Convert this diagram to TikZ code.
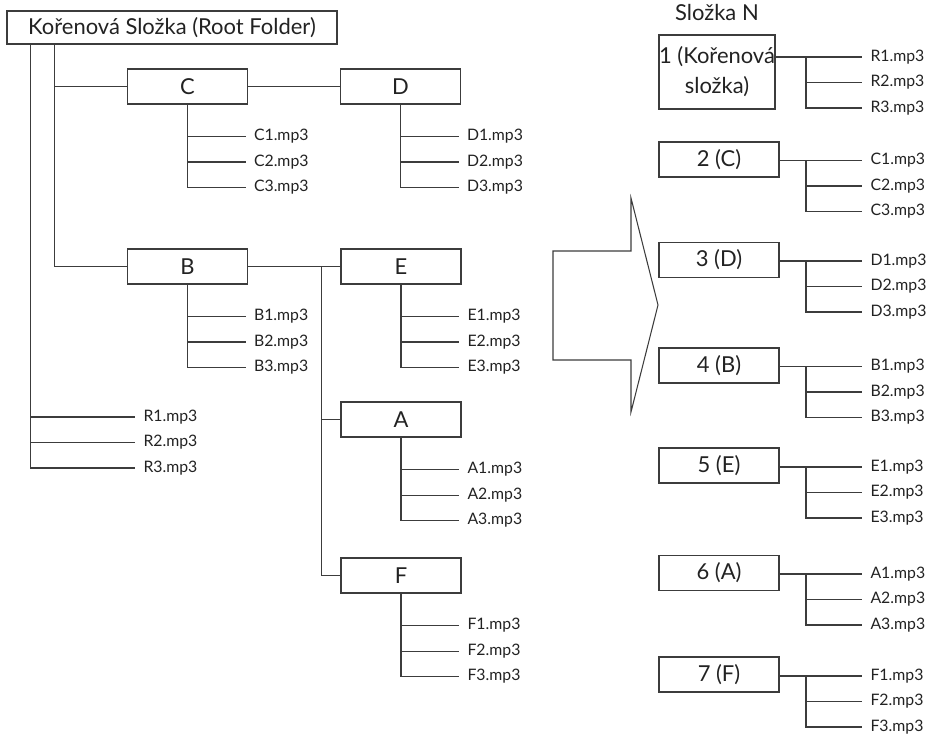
\documentclass[tikz,border=0pt]{standalone}
\usepackage{fontspec}
\setmainfont{Lato}
\usetikzlibrary{positioning}
\definecolor{lnG}{HTML}{3C3C3C}
\definecolor{txG}{HTML}{222222}

\begin{document}
\begin{tikzpicture}[x=0.02cm,y=-0.02cm,line width=0.7pt,color=txG,
  dir/.style={draw=lnG,minimum width=2.4cm,minimum height=0.7cm,inner sep=0pt,
    font=\fontsize{12.5}{17}\selectfont},
  file/.style={anchor=west,inner xsep=4.5pt,inner ysep=0pt,font=\fontsize{9}{11}\selectfont},
  lnk/.style={draw=lnG}]
  \useasboundingbox (0,0) rectangle (932,733);
  % left: folder tree
  \node[dir,minimum width=6.6cm,minimum height=0.66cm] (root) at (172,27.5) {Kořenová Složka (Root Folder)};
  \node[dir] (C) at (187.5,86.5) {C};
  \node[dir] (D) at (400.5,86.5) {D};
  \node[dir] (B) at (187.5,266.5) {B};
  \node[dir] (E) at (401,266.5) {E};
  \node[dir] (A) at (401,419.5) {A};
  \node[dir] (F) at (401,575.5) {F};
  \foreach \d in {C,D,B,E,A,F} {
    \foreach \k in {1,2,3}
      \node[file] (\d\k) at ([shift={(58,{32+25.5*(\k-1)})}]\d.south) {\d\k.mp3};
    \draw[lnk] (\d.south) |- (\d3.west) (\d.south |- \d1.west) -- (\d1.west)
      (\d.south |- \d2.west) -- (\d2.west);
  }
  \foreach \k in {1,2,3}
    \node[file] (R\k) at (135,{391.5+25.5*\k}) {R\k.mp3};
  \draw[lnk] ([xshift=0.48cm]root.south west) |- (R3.west)
    ([xshift=0.48cm]root.south west |- R1.west) -- (R1.west)
    ([xshift=0.48cm]root.south west |- R2.west) -- (R2.west);
  \draw[lnk] ([xshift=0.96cm]root.south west) |- (B.west)
    ([xshift=0.96cm]root.south west |- C.west) -- (C.west);
  \draw[lnk] (C) -- (D);
  \draw[lnk] (B) -- (E);
  \draw[lnk] ([xshift=-0.38cm]E.west) |- (F.west)
    ([xshift=-0.38cm]E.west |- A.west) -- (A.west);

  % middle: big arrow
  \draw[lnG,line width=0.6pt] (553,251) -- (631,251) -- (631,198) -- (658,305)
    -- (631,412) -- (631,360) -- (553,360) -- cycle;

  % right: folder order
  \node[font=\fontsize{12.5}{15}\selectfont] (title) at (717,13) {Složka N};
  \node[dir,minimum width=2.32cm,minimum height=1.48cm,align=center] (s1) at (717,72)
    {1 (Kořenová\\složka)};
  \foreach \i/\l/\y in {2/C/159.5,3/D/260,4/B/365.5,5/E/465.5,6/A/573,7/F/674.5}
    \node[dir] (s\i) at (719,\y) {\i\ (\l)};
  \foreach \i/\l/\y in {1/R/57,2/C/160.5,3/D/261,4/B/366.5,5/E/467,6/A/574,7/F/676} {
    \foreach \k in {1,2,3}
      \node[file] (s\i-\k) at (862,{\y+25.5*(\k-1)}) {\l\k.mp3};
    \draw[lnk] (s\i.east |- s\i-1.west) -- (s\i-1.west)
      ([xshift=-1.12cm]s\i-1.west) |- (s\i-3.west)
      ([xshift=-1.12cm]s\i-2.west) -- (s\i-2.west);
  }
\end{tikzpicture}
\end{document}
